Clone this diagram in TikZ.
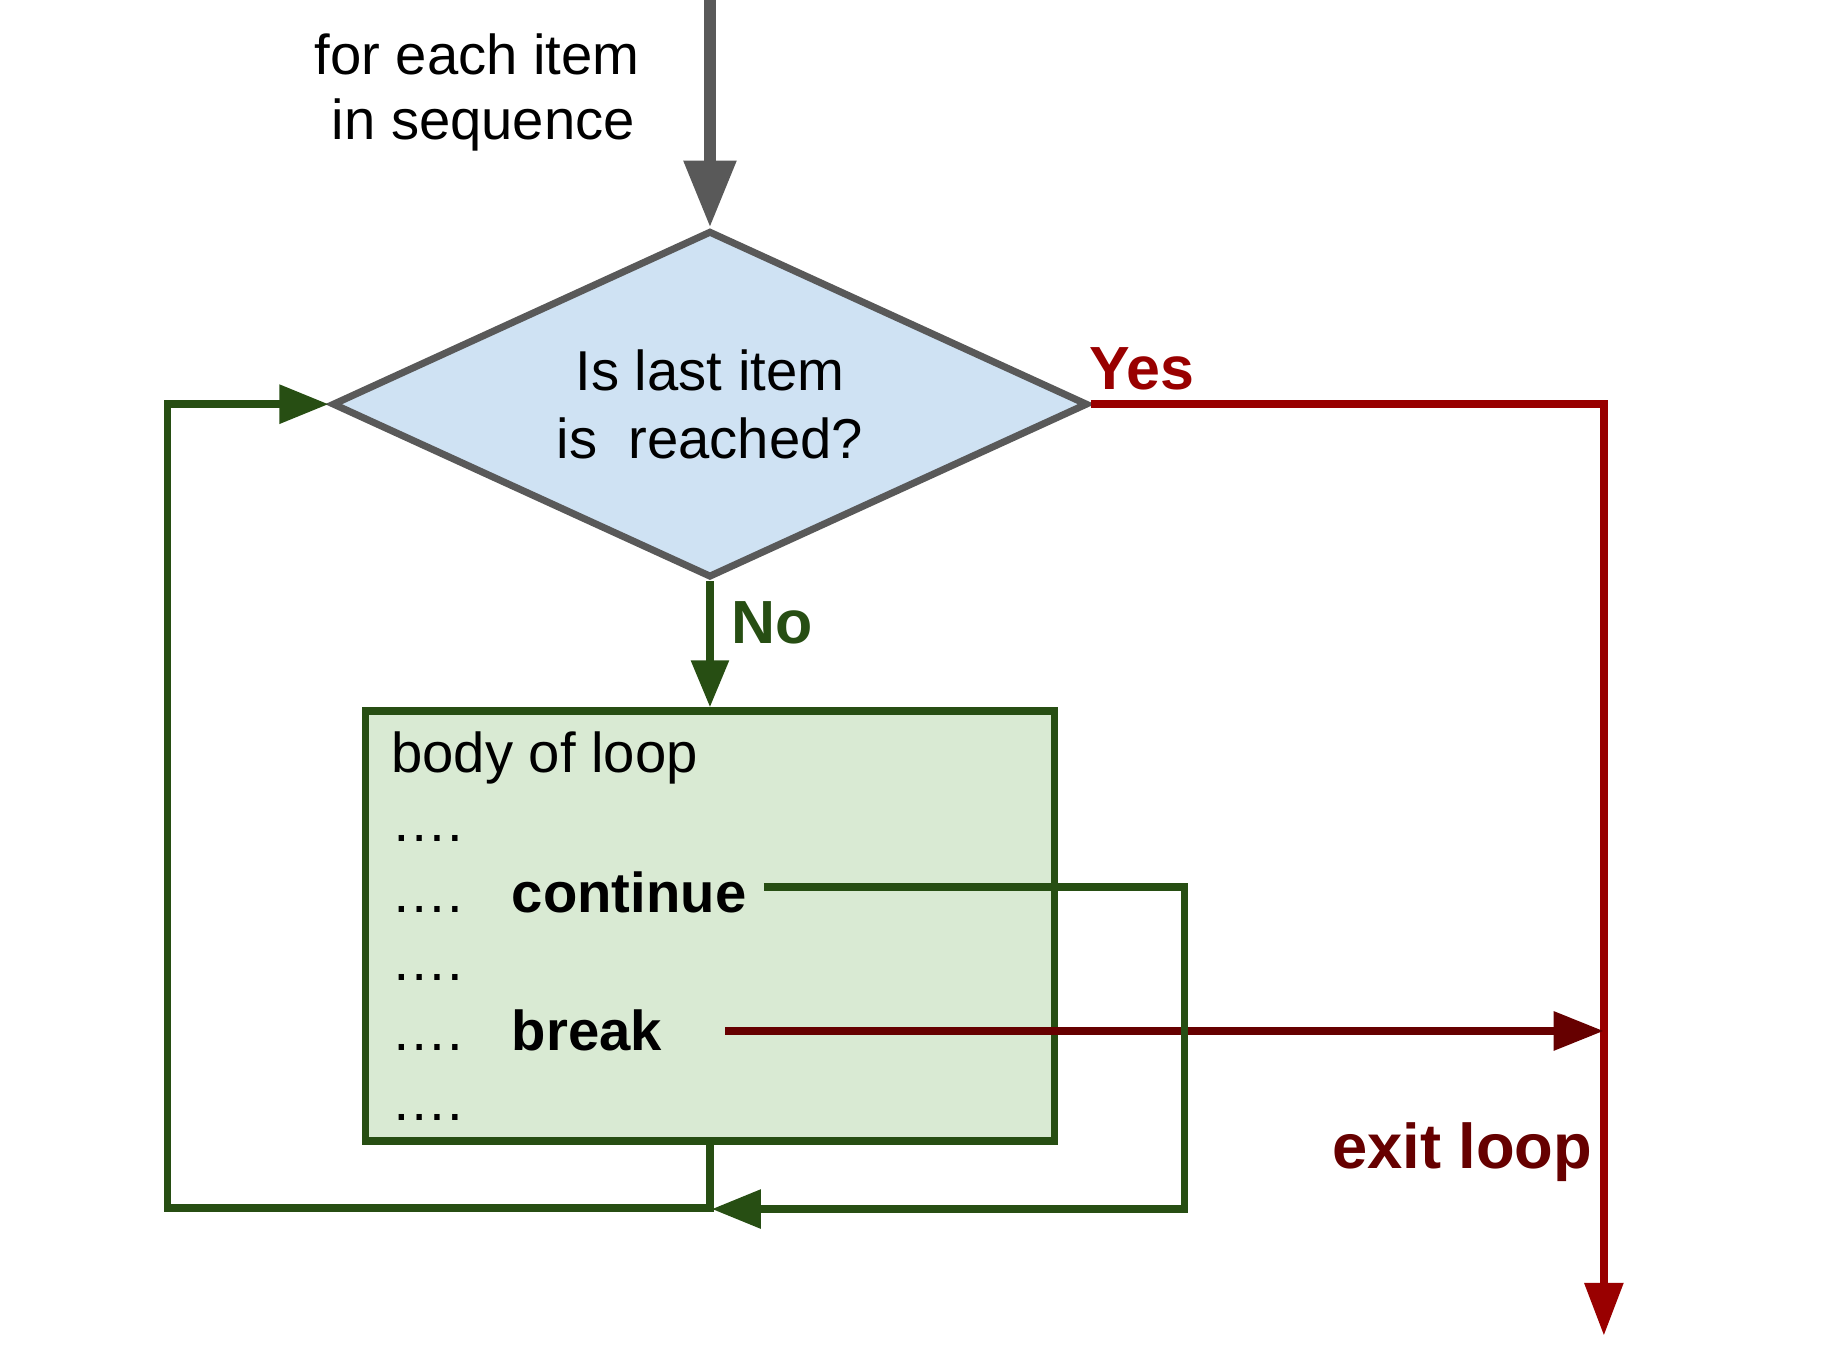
\documentclass[tikz,border=0pt]{standalone}
\usepackage{fontspec}
\setmainfont{Liberation Sans}
\usetikzlibrary{arrows.meta,shapes.geometric}
\definecolor{grayc}{HTML}{595959}
\definecolor{bluefill}{HTML}{CFE2F3}
\definecolor{greenc}{HTML}{274E13}
\definecolor{greenfill}{HTML}{D9EAD3}
\definecolor{redc}{HTML}{990000}
\definecolor{darkredc}{HTML}{660000}
\begin{document}
\begin{tikzpicture}[x=1pt,y=-1pt,
  txt/.style={inner sep=0pt, outer sep=0pt, font=\fontsize{48}{58}\selectfont},
  boldtxt/.style={inner sep=0pt, outer sep=0pt, font=\fontsize{48}{58}\selectfont\bfseries},
  lbl/.style={inner sep=0pt, outer sep=0pt, font=\fontsize{52}{60}\selectfont\bfseries},
  glink/.style={draw=greenc, line width=6.5pt},
  gtip/.style={-{Triangle[length=42pt,width=32pt]}},
]
\useasboundingbox (0,0) rectangle (1568,1158);

% decision
\node[diamond, aspect=2.18, minimum width=645pt, minimum height=296pt,
      fill=bluefill, draw=grayc, line width=6pt, inner sep=0pt, align=center,
      font=\fontsize{48}{58}\selectfont] (dec) at (606,345) {Is last item\\is~~reached?};

% body box
\node[rectangle, minimum width=588pt, minimum height=367pt,
      fill=greenfill, draw=greenc, line width=6.5pt] (body) at (606,790.5) {};

% texts
\node[txt, anchor=base east] (for1) at (546,64) {for each item};
\node[txt, anchor=base east] (for2) at (542,119.5) {in sequence};
\node[txt, anchor=base west] (b0) at (334,659.5) {body of loop};
\node[txt, anchor=base west] (d1) at (334,718.5) {….};
\node[txt, anchor=base west] (d2) at (334,778.5) {….};
\node[boldtxt, anchor=base west] (cont) at (437,778.5) {continue};
\node[txt, anchor=base west] (d3) at (334,837) {….};
\node[txt, anchor=base west] (d4) at (334,896.5) {….};
\node[boldtxt, anchor=base west] (brk) at (437,896.5) {break};
\node[txt, anchor=base west] (d5) at (334,956) {….};

\node[lbl, anchor=base west, text=redc] (yes) at (930,332.5) {Yes};
\node[lbl, anchor=base west, text=greenc] (no) at (624,549) {No};
\node[inner sep=0pt, outer sep=0pt, font=\fontsize{54}{60}\selectfont\bfseries,
      text=darkredc, anchor=base east] (exitl) at (1359,997) {exit loop};

% coordinates
\coordinate (topin) at (606,-10);
\coordinate (exitend) at (1369,1140);
\coordinate (brkA) at (619,880);
\coordinate (brkB) at (1369,880);
\coordinate (cA) at (652,757);
\coordinate (cB) at (1011,757);
\coordinate (cC) at (1011,1032);
\coordinate (cD) at (607.5,1032);
\coordinate (lA) at (606,1031);
\coordinate (lB) at (143,1031);
\coordinate (lC) at (143,345);

% connectors
\draw[grayc, line width=9.5pt, -{Triangle[length=57pt,width=43pt]}] (topin) -- (dec.north);
\draw[glink, -{Triangle[length=40pt,width=31pt]}] (dec.south) -- (body.north);
\draw[redc, line width=6.5pt, -{Triangle[length=45pt,width=32pt]}] (dec.east) -| (exitend);
\draw[darkredc, line width=7pt, -{Triangle[length=43pt,width=32pt]}] (brkA) -- (brkB);
\draw[glink, gtip] (cA) -- (cB) -- (cC) -- (cD);
\draw[glink, gtip] (body.south) -- (lA) -- (lB) -- (lC) -- (dec.west);
\end{tikzpicture}
\end{document}
